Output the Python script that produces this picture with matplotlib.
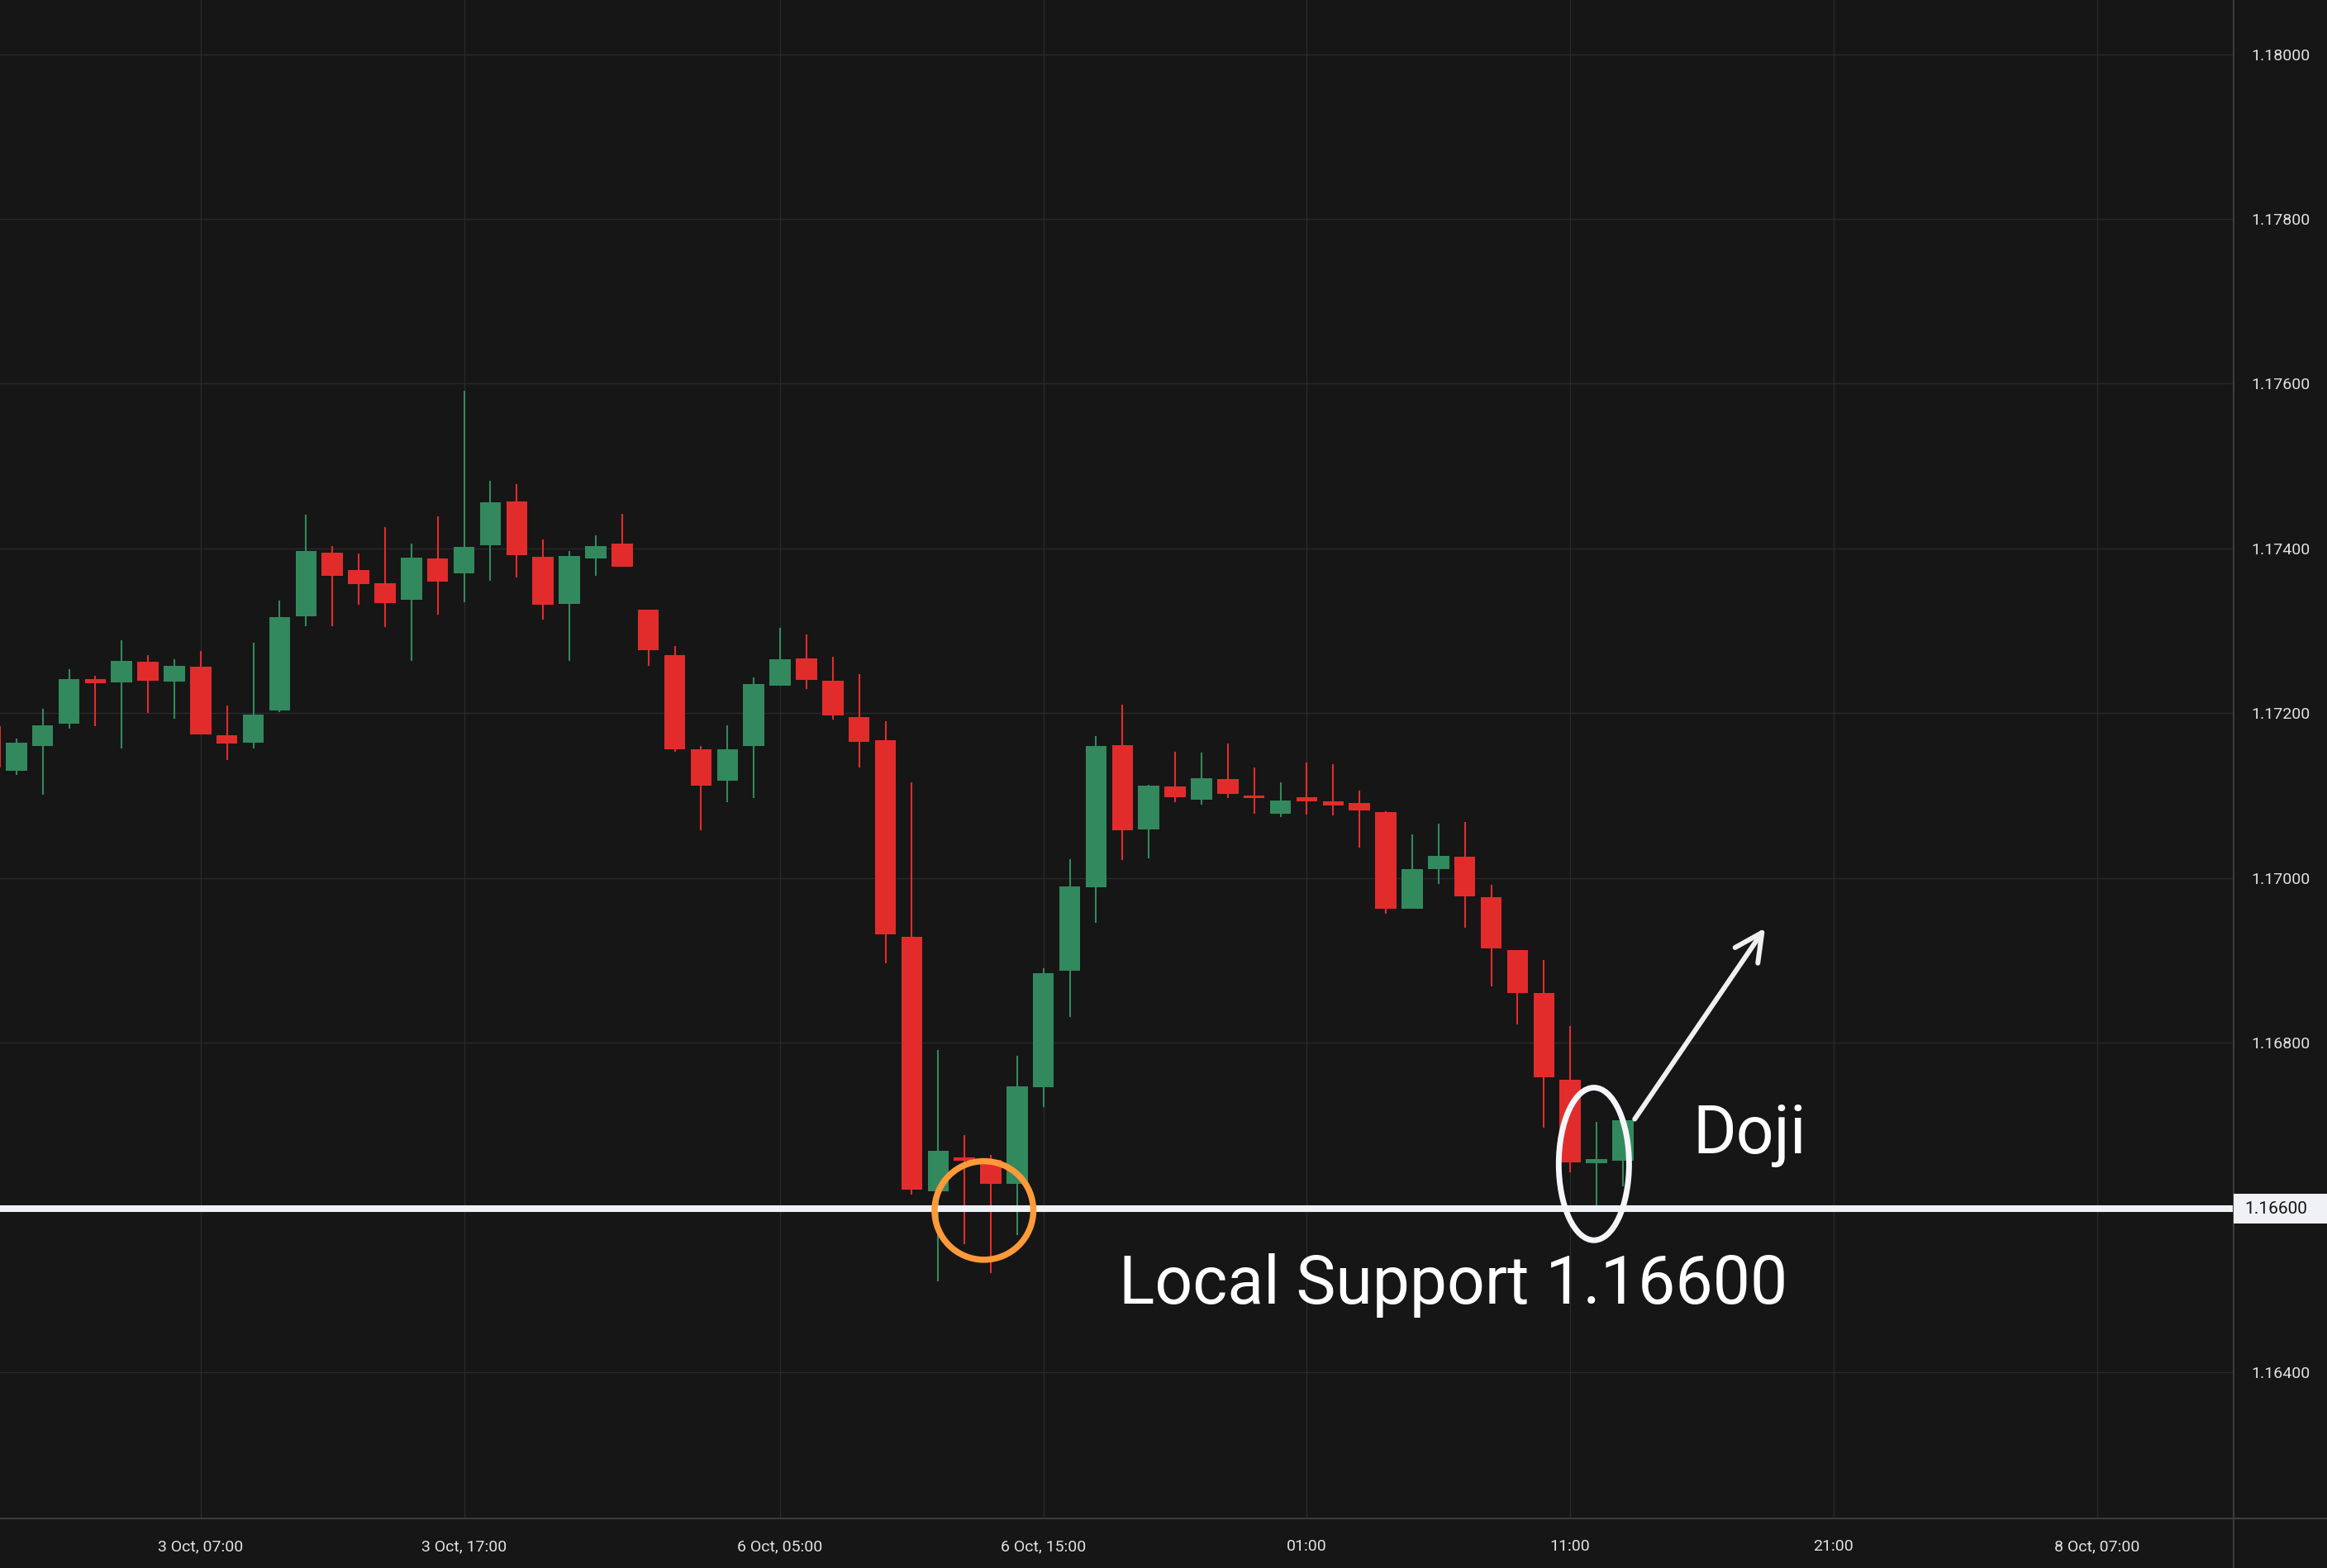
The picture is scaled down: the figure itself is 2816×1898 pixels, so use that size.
import numpy as np
import matplotlib
matplotlib.use('Agg')
from matplotlib import pyplot as plt
from matplotlib.patches import Ellipse, Rectangle
from matplotlib.lines import Line2D
import matplotlib.transforms as mtransforms

# hourly EURUSD candles, index -1 = 2 Oct 23:00 (only partly visible)
candle_idx = np.arange(-1, 62)
opens = [1.17184, 1.17130, 1.17160, 1.17187, 1.17241, 1.17237, 1.17262, 1.17238, 1.17256, 1.17173,
         1.17164, 1.17203, 1.17318, 1.17395, 1.17374, 1.17358, 1.17338, 1.17388, 1.17370, 1.17404,
         1.17457, 1.17390, 1.17333, 1.17388, 1.17406, 1.17326, 1.17270, 1.17156, 1.17118, 1.17160,
         1.17233, 1.17266, 1.17239, 1.17195, 1.17167, 1.16928, 1.16619, 1.16660, 1.16657, 1.16628,
         1.16746, 1.16887, 1.16988, 1.17161, 1.17059, 1.17111, 1.17095, 1.17120, 1.17100, 1.17078,
         1.17098, 1.17093, 1.17091, 1.17080, 1.16962, 1.17011, 1.17026, 1.16976, 1.16912, 1.16860,
         1.16755, 1.16653, 1.16656]
closes = [1.17134, 1.17164, 1.17185, 1.17241, 1.17236, 1.17263, 1.17239, 1.17257, 1.17174, 1.17163,
          1.17198, 1.17317, 1.17397, 1.17367, 1.17357, 1.17334, 1.17389, 1.17360, 1.17402, 1.17456,
          1.17392, 1.17332, 1.17391, 1.17403, 1.17378, 1.17276, 1.17156, 1.17112, 1.17156, 1.17235,
          1.17265, 1.17240, 1.17197, 1.17165, 1.16931, 1.16621, 1.16668, 1.16656, 1.16628, 1.16747,
          1.16884, 1.16989, 1.17160, 1.17058, 1.17112, 1.17098, 1.17121, 1.17102, 1.17097, 1.17094,
          1.17093, 1.17088, 1.17082, 1.16962, 1.17011, 1.17027, 1.16977, 1.16914, 1.16860, 1.16758,
          1.16654, 1.16658, 1.16706]
highs = [1.17184, 1.17169, 1.17205, 1.17253, 1.17245, 1.17288, 1.17270, 1.17265, 1.17275, 1.17209,
         1.17285, 1.17337, 1.17441, 1.17403, 1.17394, 1.17426, 1.17406, 1.17439, 1.17591, 1.17482,
         1.17478, 1.17411, 1.17397, 1.17416, 1.17442, 1.17326, 1.17281, 1.17160, 1.17185, 1.17243,
         1.17304, 1.17295, 1.17268, 1.17247, 1.17190, 1.17116, 1.16791, 1.16688, 1.16663, 1.16784,
         1.16890, 1.17023, 1.17172, 1.17210, 1.17113, 1.17153, 1.17152, 1.17163, 1.17134, 1.17116,
         1.17140, 1.17138, 1.17106, 1.17081, 1.17053, 1.17066, 1.17068, 1.16992, 1.16912, 1.16900,
         1.16820, 1.16704, 1.16706]
lows = [1.17134, 1.17125, 1.17101, 1.17181, 1.17184, 1.17157, 1.17200, 1.17193, 1.17174, 1.17143,
        1.17157, 1.17201, 1.17306, 1.17306, 1.17332, 1.17305, 1.17263, 1.17320, 1.17335, 1.17361,
        1.17365, 1.17314, 1.17263, 1.17367, 1.17378, 1.17257, 1.17153, 1.17058, 1.17092, 1.17097,
        1.17233, 1.17229, 1.17192, 1.17134, 1.16896, 1.16615, 1.16510, 1.16555, 1.16520, 1.16566,
        1.16722, 1.16831, 1.16945, 1.17022, 1.17024, 1.17092, 1.17089, 1.17097, 1.17078, 1.17074,
        1.17077, 1.17076, 1.17037, 1.16956, 1.16962, 1.16993, 1.16939, 1.16868, 1.16822, 1.16697,
        1.16642, 1.16600, 1.16625]

time_tick_idx = [7, 17, 29, 39, 49, 59, 69, 79]
time_tick_labels = ['3 Oct, 07:00', '3 Oct, 17:00', '6 Oct, 05:00', '6 Oct, 15:00',
                    '01:00', '11:00', '21:00', '8 Oct, 07:00']
price_ticks = [1.164, 1.168, 1.170, 1.172, 1.174, 1.176, 1.178, 1.180]
support_level = 1.166

BG = '#161616'
GRID = '#2a2a2d'
UP = '#32895d'
DOWN = '#e22c2c'
TXT = '#e2e2e2'

plt.rcParams['font.family'] = ['Roboto', 'DejaVu Sans']

fig = plt.figure(figsize=(28.16, 18.98), dpi=100, facecolor=BG)
ax = fig.add_axes([0, 60 / 1898, 2703 / 2816, 1838 / 1898])
ax.set_facecolor(BG)

o = np.array(opens)
c = np.array(closes)
h = np.array(highs)
l = np.array(lows)
cols = np.where(c >= o, UP, DOWN)

ax.vlines(candle_idx, l, h, colors=cols, linewidth=1.5, zorder=2)
ax.bar(candle_idx, np.abs(c - o), bottom=np.minimum(o, c), width=0.8,
       color=cols, linewidth=0, zorder=3)

ax.set_xlim(-0.62, 84.19)
ax.set_ylim(1.16222, 1.18066)

ax.set_xticks(time_tick_idx)
ax.set_xticklabels(time_tick_labels)
ax.set_yticks(price_ticks)
ax.set_yticklabels([f'{v:.5f}' for v in price_ticks])
ax.yaxis.tick_right()
ax.tick_params(axis='both', length=0, labelsize=14, labelcolor=TXT)
ax.tick_params(axis='x', pad=18)
ax.tick_params(axis='y', pad=15)
ax.grid(True, color=GRID, linewidth=1.0, zorder=0)
ax.set_axisbelow(True)
for s in ax.spines.values():
    s.set_visible(False)

# support line
ax.axhline(support_level - 0.00002, color='#f0f2f7', linewidth=5.8, zorder=5)

# orange circle on the first test of support
ax.add_patch(Ellipse((36.74, 1.16596), 3.75, 0.001197, fill=False,
                     edgecolor='#ff9a3a', linewidth=5.4, zorder=6))
# doji ellipse
ax.add_patch(Ellipse((59.9, 1.166525), 2.67, 0.001853, fill=False,
                     edgecolor='#f5f6fa', linewidth=5.0, zorder=6))

ax.annotate('', xy=(66.40, 1.16939), xytext=(61.45, 1.16707),
            arrowprops=dict(arrowstyle='->,head_length=2.4,head_width=1.2',
                            mutation_scale=10, lw=4.3, color='#f0f0f0',
                            shrinkA=0, shrinkB=0),
            zorder=7)

ax.text(63.65, 1.16665, 'Doji', color='white', fontsize=58, va='baseline', ha='left', zorder=7)
ax.text(41.85, 1.16483, 'Local Support 1.16600', color='white', fontsize=58,
        va='baseline', ha='left', zorder=7)

# price axis / time axis borders
fig.add_artist(Line2D([0, 1], [60 / 1898, 60 / 1898], color='#3c3c3c', linewidth=1.5,
                      transform=fig.transFigure, zorder=4))
fig.add_artist(Line2D([2703 / 2816, 2703 / 2816], [0, 1], color='#3c3c3c', linewidth=1.5,
                      transform=fig.transFigure, zorder=4))

# support price tag on the right axis
trans = mtransforms.blended_transform_factory(fig.transFigure, ax.transData)
tag_h = 0.00036
tag_y = support_level - 0.00002
fig.add_artist(Rectangle((2703 / 2816, tag_y - tag_h / 2), 1 - 2703 / 2816, tag_h,
                         transform=trans, facecolor='#f0f1f6', edgecolor='none', zorder=5))
fig.text(2716 / 2816, tag_y, '1.16600', transform=trans, color='#131313',
         fontsize=15, va='center', ha='left', zorder=6)

fig.savefig('out.png', dpi=100, facecolor=BG)
